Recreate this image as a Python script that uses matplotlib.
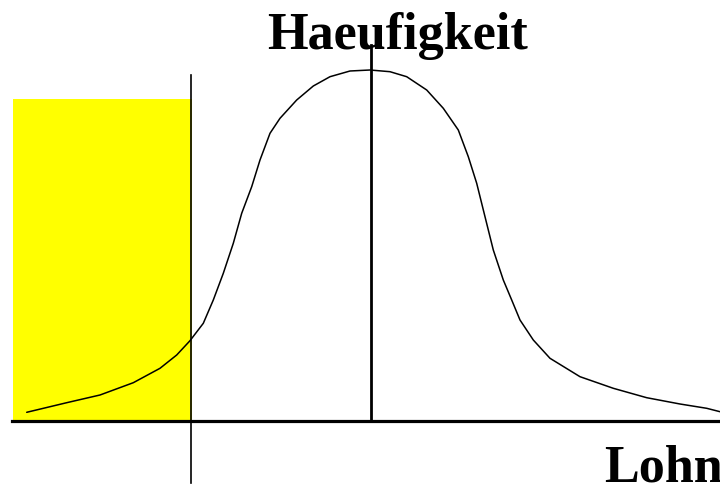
import matplotlib
matplotlib.use("Agg")
import matplotlib.pyplot as plt

# Lohn (x) and Haeufigkeit (height above the axis)
lohn = [26.7, 66.7, 100, 133.3, 160, 176.7, 190, 203.3, 213.3, 223.3,
        233.3, 241.7, 251.7, 260, 270, 280, 296.7, 313.3, 330, 350,
        370, 390, 406.7, 426.7, 443.3, 458.3, 468.3, 476.7, 485, 493.3,
        503.3, 511.7, 520, 533.3, 550, 580, 613.3, 646.7, 680, 706.7, 720]
haeufigkeit = [8.7, 18.3, 26, 38.3, 52.7, 66, 80.3, 97.7, 121, 147.7,
               177.7, 207.7, 234.3, 261, 287.7, 302.7, 321, 335, 344.3, 350,
               351, 349.3, 344.3, 331, 312.7, 291, 264.3, 237.7, 204.3, 171,
               141, 121, 101, 81, 62.7, 44.3, 32.7, 23.3, 17, 12.7, 9.3]

# shaded low-wage block, cutoff line and mean line
block_left, block_right, block_height = 13, 192, 322
cutoff = 191
mean_lohn = 371

fig = plt.figure(figsize=(7.2, 4.88), dpi=100)
ax = fig.add_axes([0, 0, 1, 1])
ax.set_xlim(0, 720)
ax.set_ylim(-67, 421)
ax.axis("off")

ax.bar(block_left, block_height, width=block_right - block_left,
       align="edge", color="#ffff00", zorder=1)

ax.plot(lohn, haeufigkeit, color="black", lw=1.1, zorder=3,
        solid_joinstyle="round", solid_capstyle="round")

# axes of the sketch
ax.plot([12, 720], [0, 0], color="black", lw=2.3, zorder=4)
ax.plot([cutoff, cutoff], [-62, 346], color="black", lw=1.2, zorder=4)
ax.plot([mean_lohn, mean_lohn], [0, 376], color="black", lw=2.0, zorder=4)

font = dict(family="Liberation Serif", weight="bold", fontsize=37.5)
ax.text(398, 372, "Haeufigkeit", ha="center", va="baseline", **font)
ax.text(604, -61, "Lohn", ha="left", va="baseline", **font)

fig.savefig("out.png", dpi=100)
